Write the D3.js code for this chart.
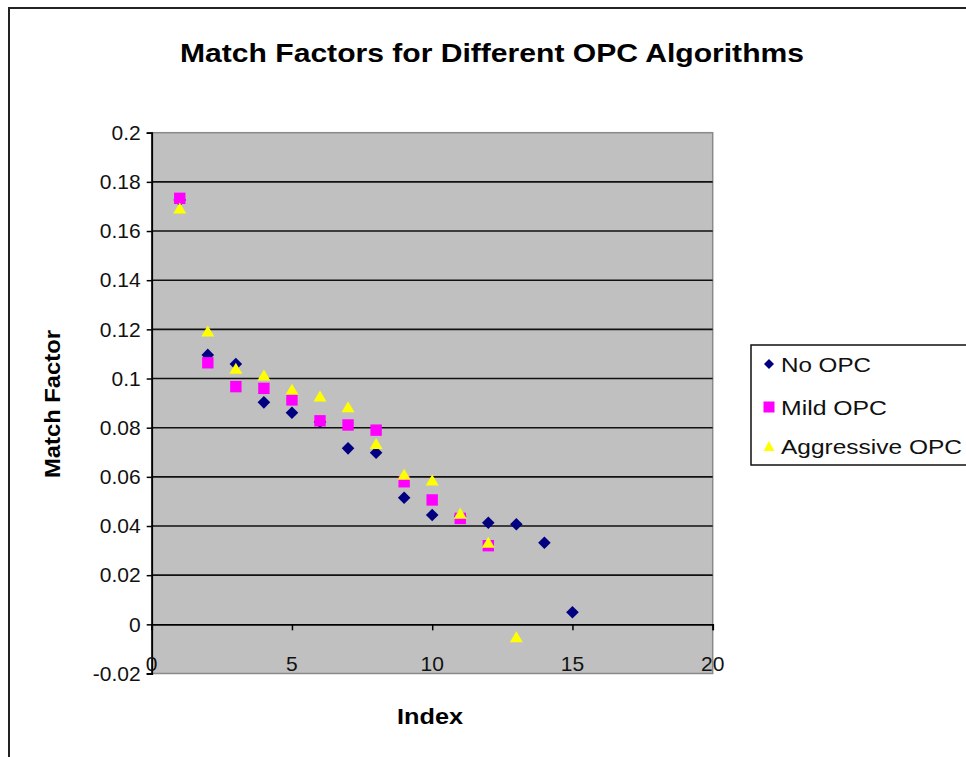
<!DOCTYPE html>
<html>
<head>
<meta charset="utf-8">
<script src="https://cdn.jsdelivr.net/npm/d3@7/dist/d3.min.js"></script>
<style>
  html, body { margin: 0; padding: 0; background: #fff; }
  svg { display: block; font-family: "Liberation Sans", Arial, sans-serif; }
</style>
</head>
<body>
<svg id="chart" width="966" height="757"></svg>
<script>
// Match factor per index for each OPC algorithm
const indexNoOPC = [1, 2, 3, 4, 5, 6, 7, 8, 9, 10, 11, 12, 13, 14, 15];
const noOPC = [0.1726, 0.1096, 0.1059, 0.0903, 0.0861, 0.0823, 0.0716, 0.0698, 0.0515, 0.0445, 0.0440, 0.0413, 0.0407, 0.0332, 0.0049];

const indexMild = [1, 2, 3, 4, 5, 6, 7, 8, 9, 10, 11, 12];
const mildOPC = [0.1733, 0.1064, 0.0967, 0.0960, 0.0913, 0.0828, 0.0811, 0.0790, 0.0580, 0.0506, 0.0431, 0.0320];

const indexAggressive = [1, 2, 3, 4, 5, 6, 7, 8, 9, 10, 11, 12, 13];
const aggressiveOPC = [0.1694, 0.1193, 0.1042, 0.1014, 0.0956, 0.0929, 0.0885, 0.0736, 0.0611, 0.0587, 0.0452, 0.0334, -0.0050];

const xTicks = [0, 5, 10, 15, 20];
const yTicks = [-0.02, 0, 0.02, 0.04, 0.06, 0.08, 0.1, 0.12, 0.14, 0.16, 0.18, 0.2];
const seriesNames = ["No OPC", "Mild OPC", "Aggressive OPC"];

const svg = d3.select("#chart");

// Outer chart frame
svg.append("rect")
  .attr("x", 9).attr("y", 8).attr("width", 1000).attr("height", 800)
  .attr("fill", "#fff").attr("stroke", "#222").attr("stroke-width", 2);

const x = d3.scaleLinear().domain([0, 20]).range([151.7, 712.7]);
const y = d3.scaleLinear().domain([-0.02, 0.2]).range([673.5, 132.7]);

// Plot area
svg.append("rect")
  .attr("x", x(0)).attr("y", y(0.2))
  .attr("width", x(20) - x(0)).attr("height", y(-0.02) - y(0.2))
  .attr("fill", "#c0c0c0").attr("stroke", "#8a8a8a").attr("stroke-width", 1.5);

// Horizontal gridlines
svg.append("g")
  .selectAll("line")
  .data(yTicks.filter(d => d > 0.001 && d < 0.199))
  .join("line")
  .attr("x1", x(0)).attr("x2", x(20))
  .attr("y1", d => y(d)).attr("y2", d => y(d))
  .attr("stroke", "#111").attr("stroke-width", 1.6);

// Y axis
const yAxis = d3.axisLeft(y)
  .tickValues(yTicks)
  .tickSize(5)
  .tickPadding(6)
  .tickFormat(d => String(+d.toFixed(2)));
const gy = svg.append("g").attr("transform", `translate(${x(0)},0)`).call(yAxis);
gy.select(".domain").attr("stroke", "#000").attr("stroke-width", 1.8);
gy.selectAll(".tick line").attr("stroke", "#000").attr("stroke-width", 1.5);
gy.selectAll(".tick text")
  .attr("font-size", 21).attr("fill", "#111")
  .attr("font-family", "Liberation Sans, Arial, sans-serif");

// X axis crossing at zero
const xAxis = d3.axisBottom(x).tickValues(xTicks).tickSize(6).tickFormat(d3.format("d"));
const gx = svg.append("g").attr("transform", `translate(0,${y(0)})`).call(xAxis);
gx.select(".domain").attr("stroke", "#000").attr("stroke-width", 1.8);
gx.selectAll(".tick line").attr("stroke", "#000").attr("stroke-width", 1.5);
gx.selectAll(".tick text").remove();

// X tick labels sit along the bottom of the plot area
svg.append("g")
  .selectAll("text")
  .data(xTicks)
  .join("text")
  .attr("x", d => x(d))
  .attr("y", 671)
  .attr("text-anchor", "middle")
  .attr("font-size", 21)
  .attr("fill", "#111")
  .text(d => d);

// Marker shapes
const diamond = s => `M0,${-s}L${s},0L0,${s}L${-s},0Z`;
const square = s => `M${-s},${-s}H${s}V${s}H${-s}Z`;
const triangle = (w, h) => `M0,${-h / 2}L${w / 2},${h / 2}L${-w / 2},${h / 2}Z`;

const layers = [
  { idx: indexNoOPC, vals: noOPC, path: diamond(6.3), fill: "#000080" },
  { idx: indexMild, vals: mildOPC, path: square(5.7), fill: "#ff00ff" },
  { idx: indexAggressive, vals: aggressiveOPC, path: triangle(13, 11), fill: "#ffff00" }
];

layers.forEach(layer => {
  svg.append("g")
    .selectAll("path")
    .data(layer.vals.map((v, i) => [layer.idx[i], v]))
    .join("path")
    .attr("d", layer.path)
    .attr("transform", d => `translate(${x(d[0])},${y(d[1])})`)
    .attr("fill", layer.fill);
});

// Title and axis titles
svg.append("text")
  .attr("x", 492).attr("y", 62)
  .attr("text-anchor", "middle")
  .attr("font-size", 26).attr("font-weight", "bold")
  .attr("textLength", 624).attr("lengthAdjust", "spacingAndGlyphs")
  .text("Match Factors for Different OPC Algorithms");

svg.append("text")
  .attr("x", 430).attr("y", 724)
  .attr("text-anchor", "middle")
  .attr("font-size", 22).attr("font-weight", "bold")
  .attr("textLength", 66).attr("lengthAdjust", "spacingAndGlyphs")
  .text("Index");

svg.append("text")
  .attr("transform", "translate(60,404) rotate(-90)")
  .attr("text-anchor", "middle")
  .attr("font-size", 22).attr("font-weight", "bold")
  .attr("textLength", 148).attr("lengthAdjust", "spacingAndGlyphs")
  .text("Match Factor");

// Legend
const legend = svg.append("g");
legend.append("rect")
  .attr("x", 751).attr("y", 345).attr("width", 240).attr("height", 120)
  .attr("fill", "#fff").attr("stroke", "#111").attr("stroke-width", 1.5);
const legendY = [364, 407, 446];
const legendPaths = [diamond(5), square(5.5), triangle(11, 10)];
const legendFills = ["#000080", "#ff00ff", "#ffff00"];
const legendWidths = [90, 106, 181];
seriesNames.forEach((name, i) => {
  legend.append("path")
    .attr("d", legendPaths[i])
    .attr("transform", `translate(769,${legendY[i]})`)
    .attr("fill", legendFills[i]);
  legend.append("text")
    .attr("x", 781).attr("y", legendY[i] + 8)
    .attr("font-size", 21).attr("fill", "#111")
    .attr("textLength", legendWidths[i]).attr("lengthAdjust", "spacingAndGlyphs")
    .text(name);
});
</script>
</body>
</html>
